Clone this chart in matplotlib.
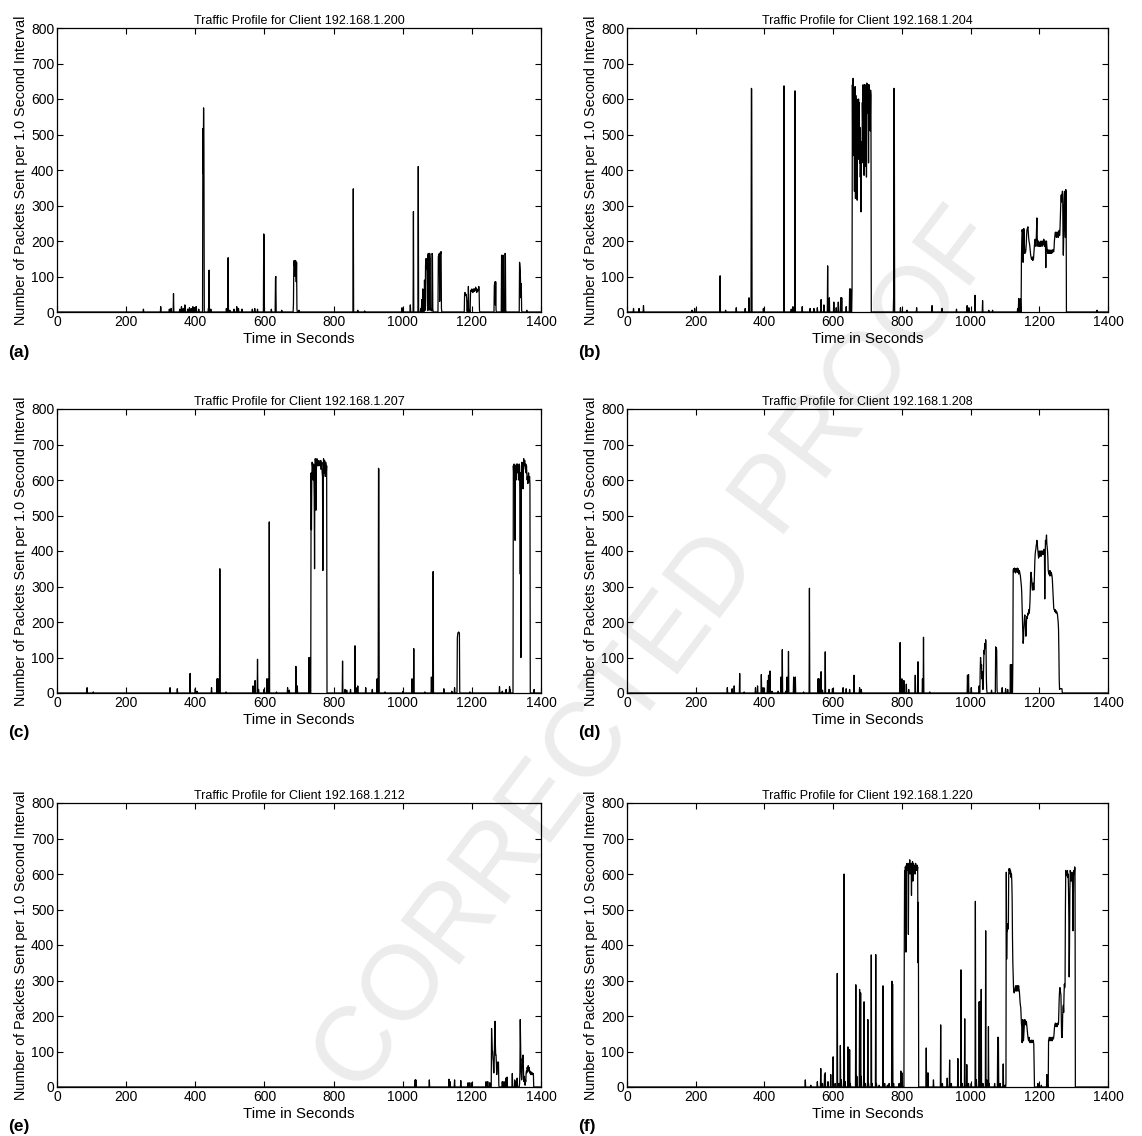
import numpy as np
import matplotlib
matplotlib.use("Agg")
import matplotlib.pyplot as plt

plt.rcParams['font.family'] = ['Liberation Sans', 'DejaVu Sans']

N_SECONDS = 1400
x_ticks = [0, 200, 400, 600, 800, 1000, 1200, 1400]
y_ticks = [0, 100, 200, 300, 400, 500, 600, 700, 800]
panel_tags = ['(a)', '(b)', '(c)', '(d)', '(e)', '(f)']
clients = ['192.168.1.200', '192.168.1.204', '192.168.1.207',
           '192.168.1.208', '192.168.1.212', '192.168.1.220']

# ---------------- (a) 192.168.1.200 ----------------
a_spike_t = [250, 300, 325, 330, 337, 355, 360, 365, 370, 378, 383, 388, 393, 398, 403, 410,
             438, 440, 445, 490, 495, 500, 512, 520, 525, 535, 565, 572, 580, 598, 599, 620,
             632, 633, 650, 700, 857, 870, 890, 998, 1022, 1031, 1045, 1052, 1055, 1058, 1359]
a_spike_v = [8, 15, 8, 10, 52, 8, 15, 10, 20, 8, 12, 10, 15, 12, 15, 8,
             10, 118, 8, 10, 153, 5, 8, 15, 10, 8, 8, 10, 8, 220, 215, 8,
             95, 100, 5, 5, 347, 5, 3, 12, 20, 283, 410, 10, 35, 65, 5]
a_burst_start = [422, 684, 1063, 1103, 1179, 1265, 1286, 1338]
a_burst_vals = [
    [517, 390, 575, 460],
    [25, 140, 145, 130, 142, 100, 145, 140, 85, 140, 10],
    [90, 20, 5, 130, 150, 120, 145, 150, 40, 5, 160, 165, 60, 5, 10, 165, 150, 10, 5, 8, 5, 3, 165, 160, 10],
    [155, 160, 158, 165, 30, 160, 168, 165, 170, 10],
    [50, 55, 52, 48, 50, 45, 40, 5, 0, 30, 0, 72, 10, 0, 5, 0, 0, 50, 60, 62, 58, 65, 60, 62, 55, 60,
     65, 62, 58, 65, 60, 62, 70, 60, 65, 55, 62, 58, 60, 65, 60, 72, 62, 5],
    [75, 80, 85, 20, 85, 5],
    [160, 158, 5, 0, 160, 155, 0, 0, 0, 0, 165, 160, 5],
    [140, 130, 115, 80, 40, 80, 5],
]

# ---------------- (b) 192.168.1.204 ----------------
b_spike_t = [19, 35, 48, 189, 197, 271, 287, 318, 344, 355, 362, 363, 397, 457, 478, 483, 489, 510,
             533, 544, 554, 565, 573, 584, 589, 602, 609, 615, 622, 625, 638, 648, 651, 776, 777,
             778, 796, 815, 843, 888, 917, 959, 990, 995, 1013, 1035, 1053, 1064, 1137, 1140, 1145, 1368]
b_spike_v = [10, 10, 18, 5, 10, 102, 5, 12, 10, 40, 630, 628, 10, 637, 8, 15, 623, 15,
             10, 10, 12, 35, 20, 130, 40, 28, 12, 28, 40, 40, 15, 65, 65, 40, 630,
             628, 12, 5, 12, 18, 10, 8, 18, 12, 47, 32, 5, 5, 10, 38, 38, 5]
b_burst_start = [655, 1148]
b_burst_vals = [
    [65, 640, 440, 658, 600, 520, 630, 340, 620, 635, 320,
     610, 560, 330, 600, 315, 580, 520, 470, 600, 430,
     590, 420, 520, 380, 450, 282, 480, 430, 420, 590,
     520, 640, 430, 600, 385, 640, 520, 640, 410, 600,
     630, 380, 645, 640, 560, 630, 640, 420, 625, 640,
     600, 620, 510, 625, 610, 0],
    [140, 200, 232, 225, 230, 140, 190, 235, 215, 180,
     165, 170, 168, 175, 190, 215, 230, 235, 238, 240,
     225, 210, 200, 195, 190, 180, 170, 160, 155, 150,
     148, 150, 155, 145, 150, 148, 160, 175, 190, 200,
     205, 195, 185, 200, 230, 265, 210, 195, 185, 190,
     200, 195, 185, 190, 195, 185, 190, 200, 195, 190,
     185, 195, 200, 190, 195, 205, 190, 185, 195, 200,
     190, 125, 195, 200, 185, 175, 170, 165, 175, 170,
     165, 172, 168, 175, 165, 170, 168, 172, 165, 175,
     170, 168, 175, 172, 170, 180, 200, 210, 220, 225,
     215, 220, 210, 225, 215, 220, 225, 210, 220, 225,
     230, 215, 225, 260, 300, 320, 330, 310, 325, 340,
     340, 220, 160, 210, 300, 330, 340, 250, 210, 345,
     340, 0],
]

# ---------------- (c) 192.168.1.207 ----------------
c_spike_t = [87, 105, 327, 348, 385, 400, 405, 447, 463, 466, 471, 489, 567, 573, 580, 583, 599, 607,
             611, 614, 635, 667, 672, 691, 695, 729, 732, 826, 833, 838, 849, 862, 865, 870, 893, 912,
             926, 930, 931, 949, 1001, 1027, 1032, 1064, 1083, 1088, 1119, 1142, 1150, 1194, 1280,
             1288, 1299, 1309, 1311, 1380]
c_spike_v = [15, 3, 15, 12, 55, 12, 5, 15, 40, 40, 350, 3, 20, 35, 95, 10, 10, 40,
             40, 482, 3, 15, 8, 75, 20, 100, 100, 90, 10, 8, 10, 133, 15, 20, 15, 10,
             40, 633, 630, 3, 5, 40, 125, 3, 45, 342, 12, 5, 15, 3, 18,
             5, 10, 18, 10, 10]
c_burst_start = [735, 1158, 1320]
c_burst_vals = [
    [620, 460, 600, 650, 640, 630, 600, 645, 620, 550,
     350, 640, 660, 650, 515, 620, 650, 660, 640, 655,
     645, 650, 640, 655, 650, 645, 640, 650, 655, 630,
     640, 650, 620, 610, 345, 600, 660, 650, 620, 655,
     640, 610, 650, 645, 620, 640, 0],
    [155, 165, 170, 170, 172, 170, 168],
    [640, 620, 645, 600, 640, 430, 630, 640, 600, 645,
     630, 640, 645, 620, 640, 600, 635, 645, 640, 560,
     335, 620, 100, 560, 640, 650, 580, 640, 575, 630,
     660, 640, 650, 655, 640, 630, 645, 620, 640, 620,
     600, 610, 590, 600, 620, 595, 600, 610, 590, 0],
]

# ---------------- (d) 192.168.1.208 ----------------
d_spike_t = [292, 306, 312, 328, 341, 374, 380, 391, 396, 409, 412, 416, 422, 440, 448, 452, 462,
             466, 470, 485, 490, 514, 531, 556, 559, 565, 569, 577, 588, 598, 629, 638, 648, 661,
             677, 682, 795, 800, 806, 813, 820, 839, 847, 860, 863, 881, 991, 994, 1002, 1025,
             1061, 1092, 1102, 1108, 1116, 1120]
d_spike_v = [15, 12, 20, 55, 3, 15, 20, 52, 15, 35, 50, 62, 5, 5, 45, 122, 5,
             45, 117, 45, 45, 3, 295, 40, 40, 60, 8, 116, 10, 12, 15, 12, 10, 50,
             15, 10, 142, 40, 35, 25, 10, 50, 88, 40, 157, 3, 50, 52, 15, 20,
             8, 15, 12, 10, 80, 80]
d_burst_start = [1028, 1073, 1123]
d_burst_vals = [
    [60, 100, 85, 70, 80, 40, 60, 20, 10, 30, 80, 120, 110, 135, 140, 125, 150, 130, 40, 10],
    [130, 125, 128, 120, 10],
    [80,
     345, 350, 340, 348, 352, 345, 350, 338, 345, 350,
     342, 348, 352, 340, 345, 350, 335, 342, 345, 340,
     335, 330, 320, 310, 300, 280, 240, 200, 170, 140,
     150, 180, 200, 215, 220, 200, 180, 160, 175, 210,
     215, 210, 220, 225, 220, 230, 235, 225, 240, 260,
     300, 330, 340, 330, 320, 300, 290, 295, 310, 300,
     290, 300, 340, 370, 390, 400, 405, 415, 420, 430,
     425, 410, 400, 390, 380, 395, 400, 385, 390, 395,
     400, 385, 395, 400, 390, 395, 400, 395, 390, 400,
     405, 400, 265, 380, 430, 420, 430, 445, 420, 410,
     400, 380, 345, 340, 335, 340, 330, 345, 335, 340,
     330, 340, 335, 330, 320, 300, 280, 260, 240, 235,
     235, 230, 235, 228, 232, 225, 230, 228, 225, 220,
     210, 200, 180, 120, 40, 10, 12, 12, 12, 12, 12, 12, 12, 0],
]

# ---------------- (e) 192.168.1.212 ----------------
e_spike_t = [1036, 1038, 1077, 1134, 1137, 1150, 1168, 1189, 1194, 1200, 1241, 1246, 1252,
             1288, 1293, 1298, 1300, 1302, 1317, 1324, 1327, 1331]
e_spike_v = [20, 20, 20, 22, 15, 20, 18, 12, 12, 12, 15, 15, 12,
             15, 15, 25, 10, 28, 38, 20, 15, 25]
e_burst_start = [1257, 1338]
e_burst_vals = [
    [165, 130, 100, 100, 80, 70, 40, 40, 100, 150, 185, 120, 90, 90, 60, 35, 50, 70, 70, 65, 70, 5],
    [10, 40, 190, 120, 55, 35, 20, 30, 80, 70,
     90, 60, 20, 15, 30, 10, 5, 20, 15, 40,
     45, 40, 55, 50, 45, 60, 50, 45, 55, 40,
     45, 40, 35, 40, 42, 35, 38, 40, 35, 38, 35, 0],
]

# ---------------- (f) 192.168.1.220 ----------------
f_spike_t = [519, 535, 554, 564, 569, 575, 577, 585, 593, 600, 606, 612, 617, 621, 624, 632, 635,
             643, 648, 650, 666, 669, 677, 680, 682, 690, 694, 701, 703, 711, 713, 724, 726, 734,
             745, 750, 758, 763, 771, 773, 776, 792, 797, 800, 871, 876, 892, 913, 918, 932, 939,
             944, 963, 972, 976, 983, 989, 994, 1002, 1014, 1017, 1025, 1028, 1031, 1036, 1044,
             1047, 1052, 1054, 1070, 1079, 1081, 1086, 1095, 1100, 1196, 1206, 1222, 1225]
f_spike_v = [20, 5, 15, 52, 10, 35, 40, 15, 35, 85, 10, 320, 10, 117, 20, 600, 15,
             113, 105, 10, 288, 30, 275, 265, 30, 240, 10, 190, 10, 372, 10, 373, 10, 5,
             285, 10, 5, 10, 298, 290, 10, 10, 45, 40, 110, 40, 20, 175, 10, 25, 76,
             10, 80, 330, 10, 192, 63, 10, 10, 523, 20, 240, 240, 275, 10, 440,
             20, 170, 10, 10, 140, 140, 10, 65, 5, 10, 5, 35, 5]
f_burst_start = [807, 1103, 1227]
f_burst_vals = [
    [380, 610, 600, 620, 615, 380, 625, 620, 630, 610,
     625, 600, 430, 620, 630, 625, 640, 600, 620, 610,
     630, 540, 620, 600, 635, 580, 625, 630, 600, 620,
     610, 625, 600, 630, 615, 620, 610, 625, 610, 620,
     350, 520, 0],
    [10,
     605, 360, 450, 440, 460, 450, 445, 600, 615, 610,
     615, 600, 610, 605, 590, 600, 580, 530, 420, 350,
     310, 280, 270, 265, 275, 270, 280, 285, 275, 270,
     285, 280, 275, 285, 270, 280, 285, 275, 270, 255,
     240, 230, 225, 200, 180, 170, 125, 140, 190, 185,
     130, 150, 175, 185, 190, 185, 180, 175, 185, 180,
     170, 160, 150, 140, 135, 130, 140, 135, 130, 125,
     130, 128, 125, 132, 130, 125, 128, 130, 132, 128,
     120, 60, 0],
    [130, 135, 140, 135, 130, 138, 135, 140, 132, 135,
     130, 135, 140, 138, 135, 140, 150, 165, 175, 178,
     180, 175, 170, 178, 175, 170, 180, 175, 178, 180,
     220, 250, 270, 280, 275, 265, 260, 200, 140, 160,
     140, 200, 220, 230, 210, 260, 290, 280, 290, 500,
     610, 605, 600, 595, 600, 610, 590, 600, 560, 480,
     310, 400, 550, 610, 605, 590, 580, 600, 605, 600,
     560, 440, 520, 600, 610, 600, 620, 615, 0],
]

panels = [
    (a_spike_t, a_spike_v, a_burst_start, a_burst_vals),
    (b_spike_t, b_spike_v, b_burst_start, b_burst_vals),
    (c_spike_t, c_spike_v, c_burst_start, c_burst_vals),
    (d_spike_t, d_spike_v, d_burst_start, d_burst_vals),
    (e_spike_t, e_spike_v, e_burst_start, e_burst_vals),
    (f_spike_t, f_spike_v, f_burst_start, f_burst_vals),
]


def build_series(spike_t, spike_v, burst_start, burst_vals):
    y = np.zeros(N_SECONDS)
    y[np.array(spike_t)] = spike_v
    for s, vals in zip(burst_start, burst_vals):
        y[s:s + len(vals)] = vals
    return y


W, H = 1142, 1136
fig = plt.figure(figsize=(W / 100, H / 100), dpi=100)

# Faint page watermark behind the plots
fig.text(0.578, 0.425, 'CORRECTED PROOF', rotation=53, fontsize=76,
         color='#ececec', ha='center', va='center', zorder=-5,
         family=['Liberation Sans', 'DejaVu Sans'])

col_left = [57, 627]
col_width = [484, 481]
row_top = [28, 409, 803]
row_height = 284

for i, (st, sv, bs, bv) in enumerate(panels):
    r, c = divmod(i, 2)
    left = col_left[c] / W
    width = col_width[c] / W
    bottom = 1 - (row_top[r] + row_height) / H
    height = row_height / H
    ax = fig.add_axes([left, bottom, width, height])
    ax.patch.set_alpha(0)
    y = build_series(st, sv, bs, bv)
    t = np.arange(N_SECONDS)
    ax.plot(t, y, color='black', lw=0.9)
    ax.set_xlim(0, 1400)
    ax.set_ylim(0, 800)
    ax.set_xticks(x_ticks)
    ax.set_yticks(y_ticks)
    ax.tick_params(direction='in', top=True, right=True, length=4, width=0.8,
                   labelsize=10, pad=2)
    for sp in ax.spines.values():
        sp.set_linewidth(0.9)
    ax.set_title('Traffic Profile for Client ' + clients[i], fontsize=9, pad=3)
    ax.set_xlabel('Time in Seconds', fontsize=10.8, labelpad=2)
    ax.set_ylabel('Number of Packets Sent per 1.0 Second Interval', fontsize=10.4, labelpad=2)
    fig.text(left - 49 / W, bottom - 40 / H, panel_tags[i], fontsize=12.5,
             fontweight='bold', ha='left', va='center')

fig.savefig('out.png', dpi=100)
